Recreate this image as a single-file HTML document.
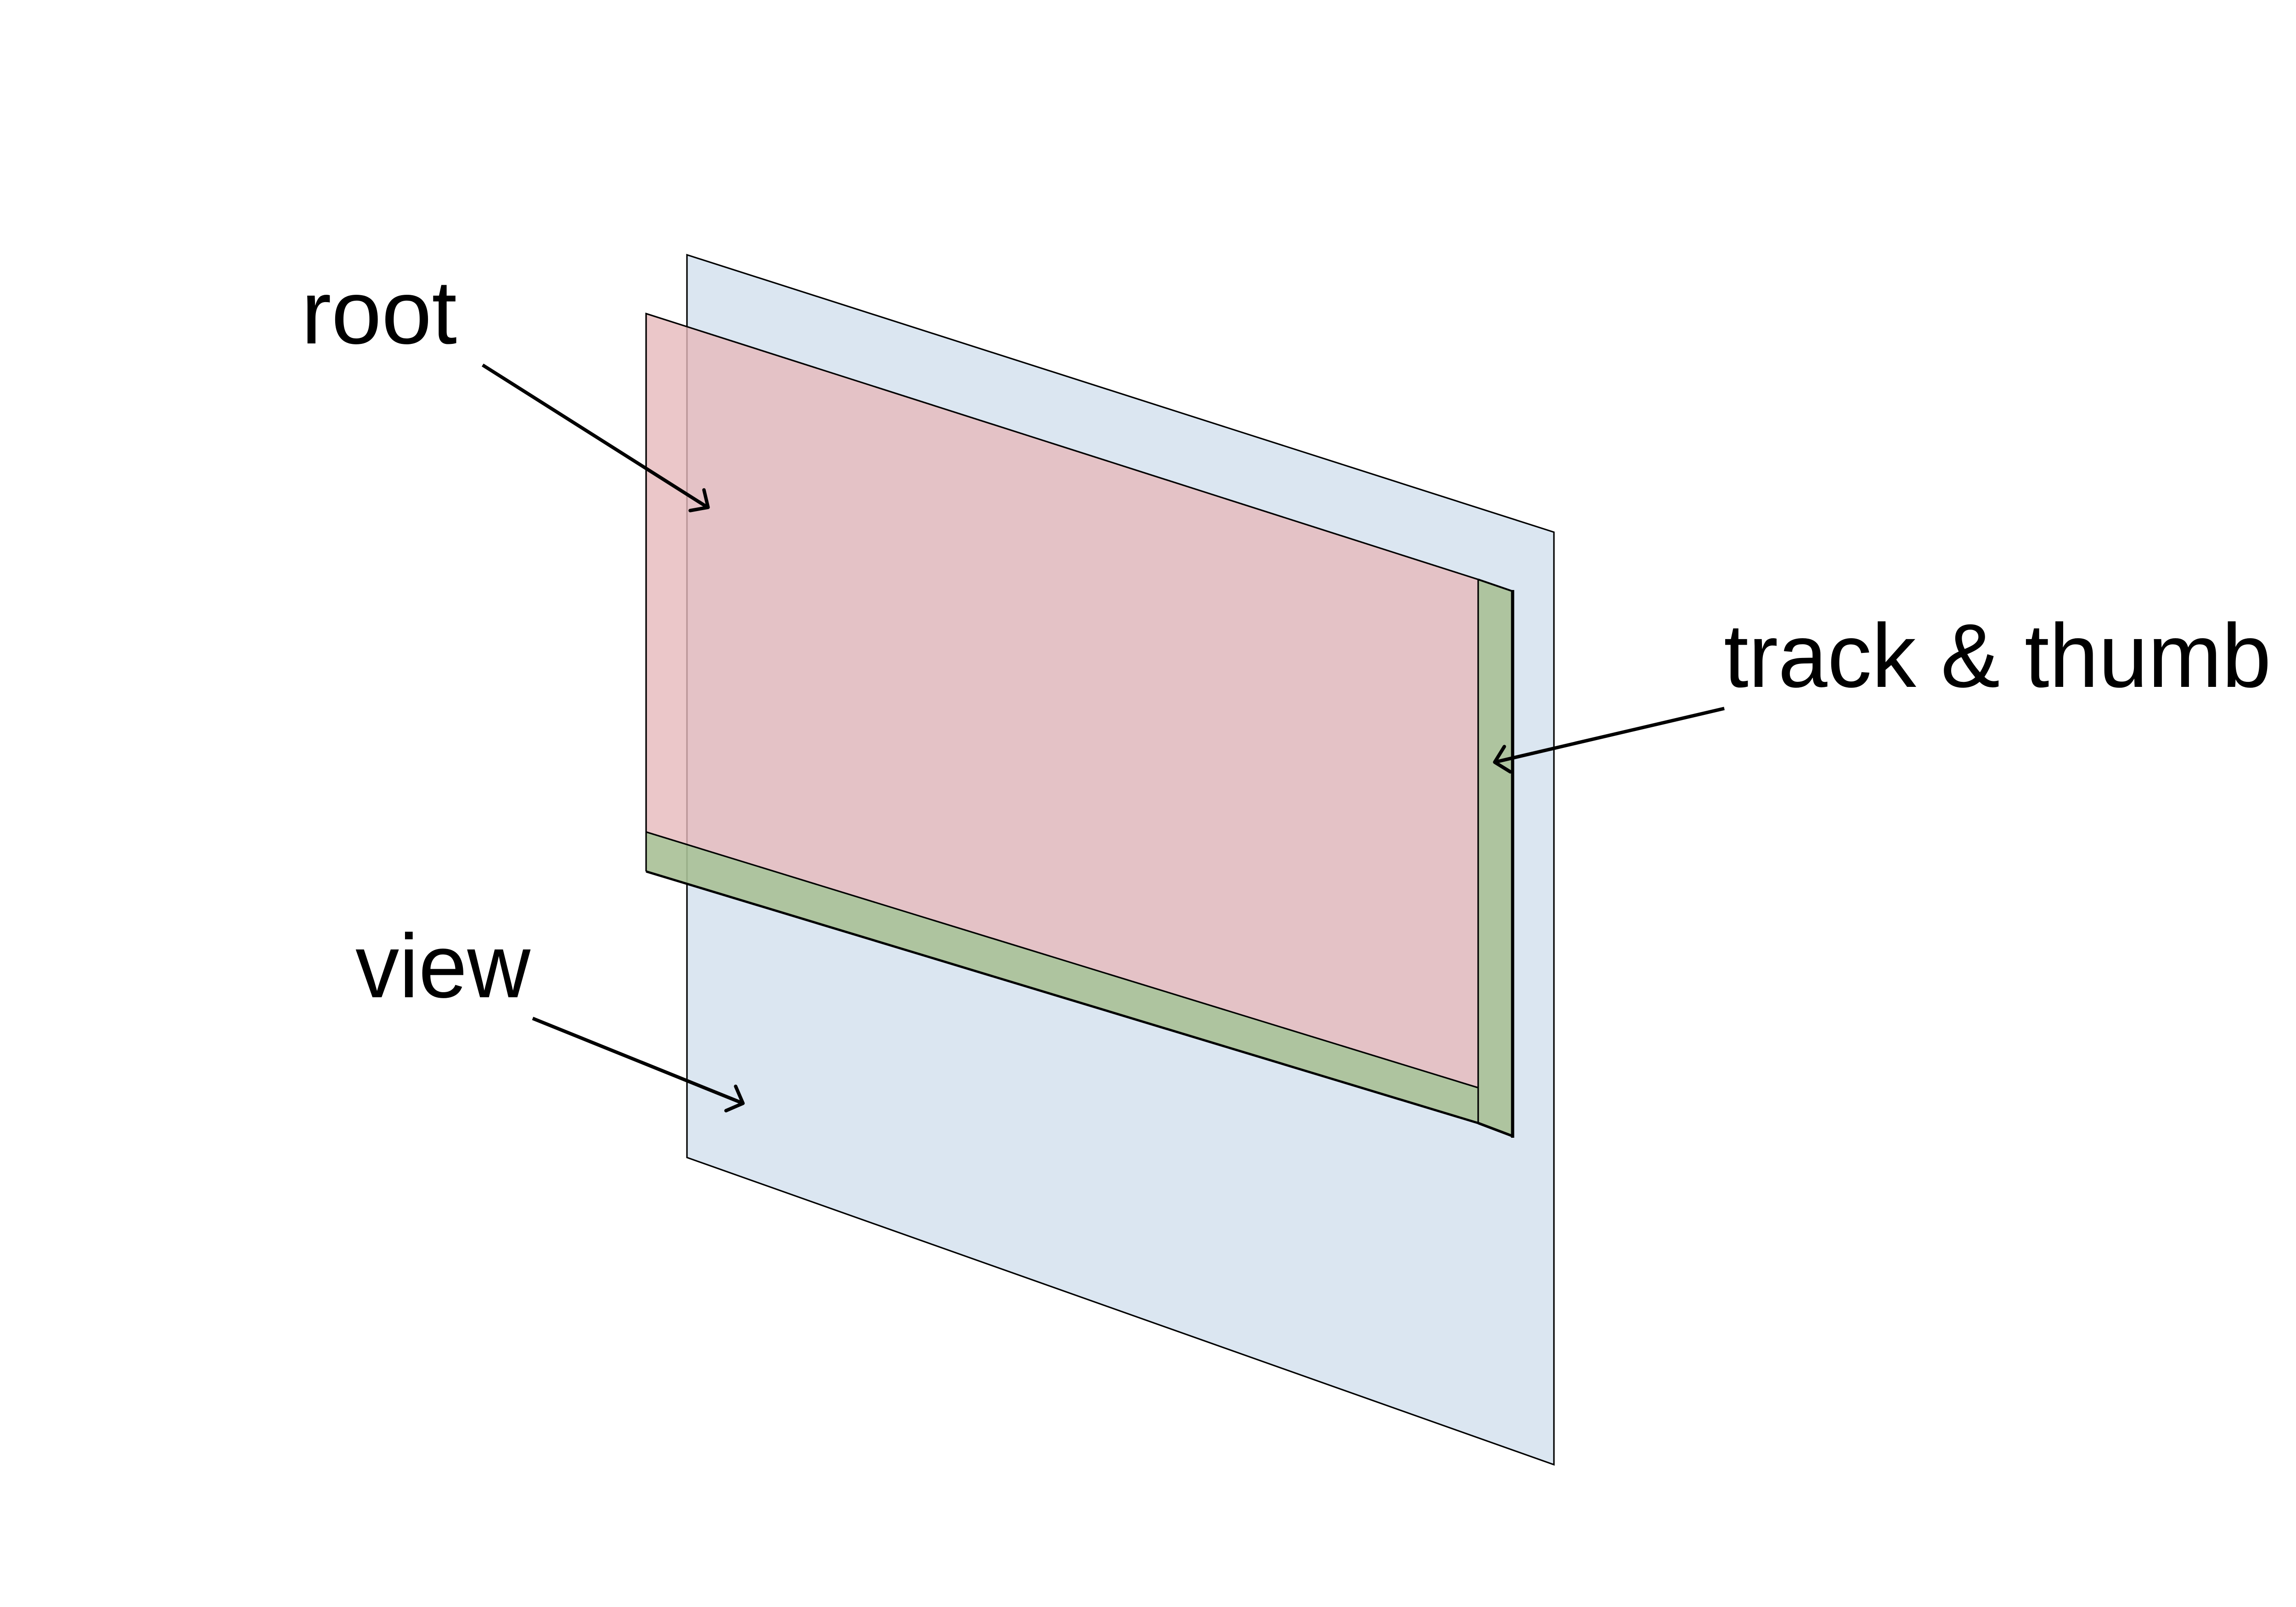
<!DOCTYPE html>
<html>
<head>
<meta charset="utf-8">
<style>
  html, body { margin: 0; padding: 0; background: #ffffff; }
  body { width: 5156px; height: 3500px; overflow: hidden; }
  svg { display: block; }
  text { font-family: "Liberation Sans", Arial, sans-serif; fill: #000; }
</style>
</head>
<body>
<svg width="5156" height="3500" viewBox="0 0 5156 3500" xmlns="http://www.w3.org/2000/svg">
  <rect x="0" y="0" width="5156" height="3500" fill="#ffffff"/>

  <!-- view plane -->
  <polygon points="1496,555 3384,1159 3384,3190 1496,2521" fill="#dbe6f1" stroke="#000" stroke-width="3.2" stroke-linejoin="miter"/>

  <!-- root plane (semi-transparent pink) -->
  <polygon points="1407,683 3219,1262 3219,2369 1407,1812" fill="rgb(230,185,187)" fill-opacity="0.8" stroke="none"/>

  <!-- green horizontal band -->
  <polygon points="1407,1812 3219,2369 3219,2446 1407,1898" fill="rgb(168,192,150)" fill-opacity="0.9" stroke="none"/>

  <!-- green vertical strip -->
  <polygon points="3219,1262 3292,1287 3292,2473 3219,2446" fill="rgb(168,192,150)" fill-opacity="0.9" stroke="none"/>

  <!-- outlines -->
  <polyline points="1407,1898 1407,683 3219,1262 3219,2446" fill="none" stroke="#000" stroke-width="3.3"/>
  <line x1="1407" y1="1812" x2="3219" y2="2369" stroke="#000" stroke-width="3.3"/>
  <line x1="1407" y1="1898" x2="3219" y2="2446" stroke="#000" stroke-width="5"/>
  <polyline points="3219,1262 3292,1287" fill="none" stroke="#000" stroke-width="4"/>
  <line x1="3219" y1="2446" x2="3293" y2="2474" stroke="#000" stroke-width="5.5"/>
  <line x1="3294" y1="1285" x2="3294" y2="2478" stroke="#000" stroke-width="7"/>

  <!-- arrows -->
  <g fill="none" stroke="#000" stroke-width="7.5">
    <line x1="1051" y1="795" x2="1541" y2="1105" stroke-linecap="butt"/>
    <polyline points="1533,1067 1542,1105 1503,1112" stroke-linecap="round" stroke-linejoin="round"/>

    <line x1="3755" y1="1543" x2="3255" y2="1660" stroke-linecap="butt"/>
    <polyline points="3276,1626 3255,1660 3289,1681" stroke-linecap="round" stroke-linejoin="round"/>

    <line x1="1160" y1="2218" x2="1618" y2="2403" stroke-linecap="butt"/>
    <polyline points="1602,2366 1618,2403 1581,2419" stroke-linecap="round" stroke-linejoin="round"/>
  </g>

  <!-- labels -->
  <text x="656" y="748" font-size="197" textLength="339" lengthAdjust="spacingAndGlyphs">root</text>
  <text x="3754" y="1496" font-size="197" textLength="1192" lengthAdjust="spacingAndGlyphs">track &amp; thumb</text>
  <text x="774" y="2172" font-size="197" textLength="381" lengthAdjust="spacingAndGlyphs">view</text>
</svg>
</body>
</html>
